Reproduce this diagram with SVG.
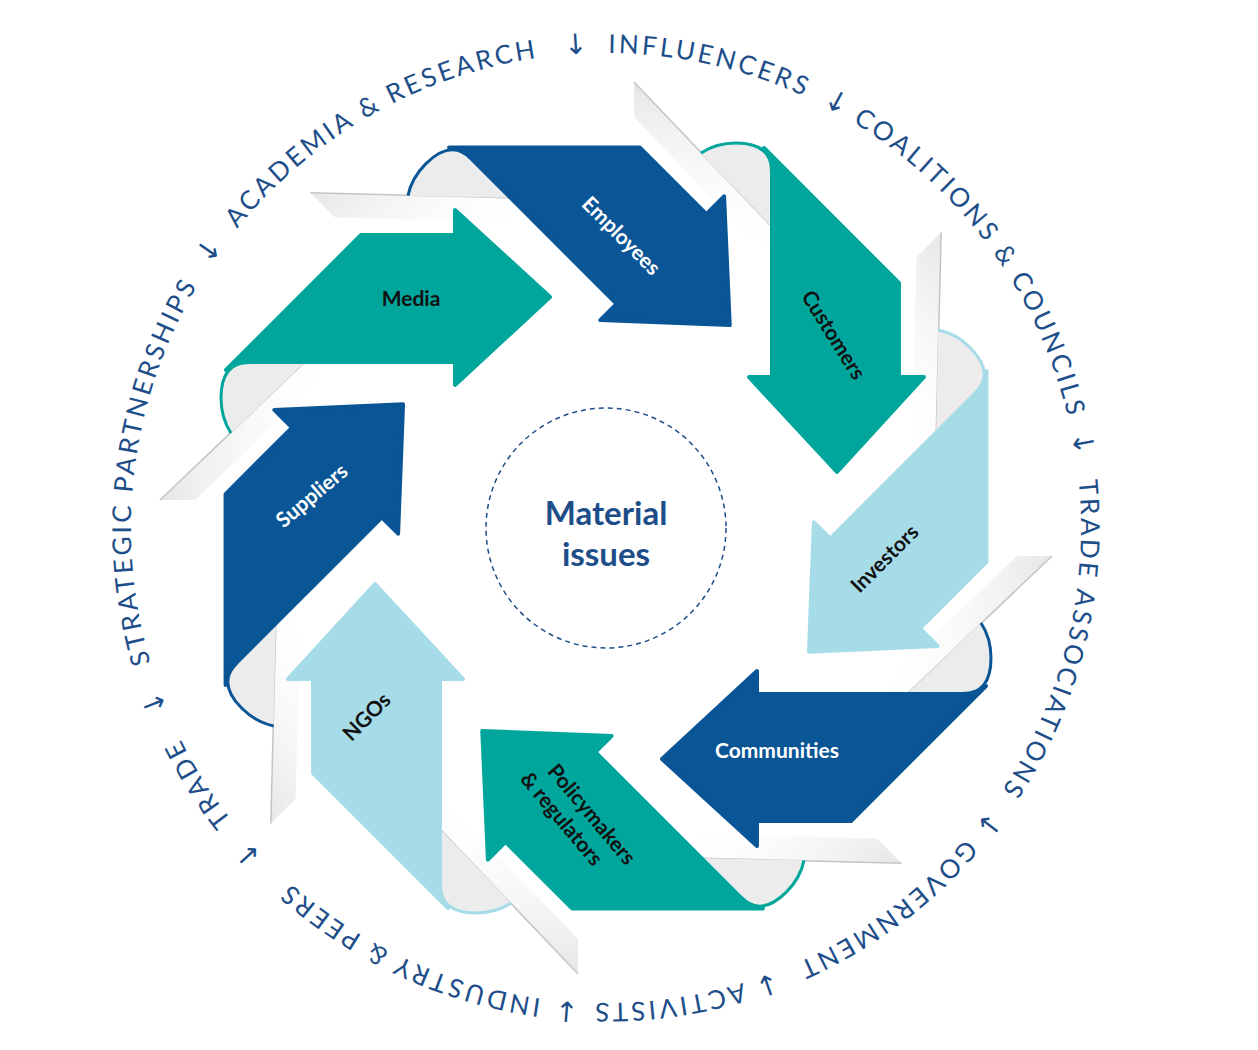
<svg xmlns="http://www.w3.org/2000/svg" xmlns:xlink="http://www.w3.org/1999/xlink" width="1258" height="1050" viewBox="0 0 1258 1050">
<style>
.ring{font-family:Lato,"Liberation Sans",sans-serif;font-size:26px;letter-spacing:3px;fill:#1d4e89}
.arr{font-family:"DejaVu Sans",sans-serif;font-size:28px;fill:#1d4e89}
.lbl{font-family:Lato,"Liberation Sans",sans-serif;font-size:21px;font-weight:bold;text-anchor:middle;dominant-baseline:middle}
.w{fill:#ffffff}.k{fill:#111111}
.crease{stroke:#c4c4c4;stroke-width:1.5}
</style>
<defs>
<path id="ringPath" d="M 606 53 A 475 475 0 1 1 605.9 53"/>
<linearGradient id="shade" x1="0" y1="0" x2="1" y2="0">
<stop offset="0" stop-color="#e6e6e6"/><stop offset="1" stop-color="#ffffff" stop-opacity="0"/>
</linearGradient>
<path id="back" d="M 305 362 L 250 362 C 228 362 221 378 221 398 C 221 412 225 424 231 433 Z"/>
<path id="rim" d="M 250 362 C 228 362 221 378 221 398 C 221 412 225 424 231 433"/>
<polygon id="band" points="305,362 340,362 195,500 160,500"/>
<line id="crease" x1="305" y1="362" x2="160" y2="500"/>
<path id="body" d="M 361 235 L 455 235 L 455 210 L 550 297 L 455 385 L 455 362 L 250 362 C 238 362 231 365 226 370 Z"/>
</defs>
<rect width="1258" height="1050" fill="#ffffff"/>

<g id="ring">
<text class="ring"><textPath href="#ringPath" startOffset="66.1%" text-anchor="middle">TRADE</textPath></text>
<text class="arr"><textPath href="#ringPath" startOffset="69.1%" text-anchor="middle">↓</textPath></text>
<text class="ring"><textPath href="#ringPath" startOffset="77%" text-anchor="middle">STRATEGIC PARTNERSHIPS</textPath></text>
<text class="arr"><textPath href="#ringPath" startOffset="84.7%" text-anchor="middle">↓</textPath></text>
<text class="ring"><textPath href="#ringPath" startOffset="91.8%" text-anchor="middle">ACADEMIA &amp; RESEARCH</textPath></text>
<text class="arr"><textPath href="#ringPath" startOffset="99%" text-anchor="middle">↓</textPath></text>
<text class="ring"><textPath href="#ringPath" startOffset="3.5%" text-anchor="middle">INFLUENCERS</textPath></text>
<text class="arr"><textPath href="#ringPath" startOffset="7.9%" text-anchor="middle">↓</textPath></text>
<text class="ring"><textPath href="#ringPath" startOffset="15%" text-anchor="middle">COALITIONS &amp; COUNCILS</textPath></text>
<text class="arr"><textPath href="#ringPath" startOffset="22.2%" text-anchor="middle">↓</textPath></text>
<text class="ring"><textPath href="#ringPath" startOffset="28.9%" text-anchor="middle">TRADE ASSOCIATIONS</textPath></text>
<text class="arr"><textPath href="#ringPath" startOffset="35.5%" text-anchor="middle">↓</textPath></text>
<text class="ring"><textPath href="#ringPath" startOffset="39.9%" text-anchor="middle">GOVERNMENT</textPath></text>
<text class="arr"><textPath href="#ringPath" startOffset="44.6%" text-anchor="middle">↓</textPath></text>
<text class="ring"><textPath href="#ringPath" startOffset="47.9%" text-anchor="middle">ACTIVISTS</textPath></text>
<text class="arr"><textPath href="#ringPath" startOffset="51.3%" text-anchor="middle">↓</textPath></text>
<text class="ring"><textPath href="#ringPath" startOffset="56.9%" text-anchor="middle">INDUSTRY &amp; PEERS</textPath></text>
<text class="arr"><textPath href="#ringPath" startOffset="63.2%" text-anchor="middle">↓</textPath></text>
</g>

<g id="connectors">
<g transform="rotate(0 606 528)"><use href="#band" fill="url(#shade)"/><use href="#crease" class="crease"/></g>
<g transform="rotate(45 606 528)"><use href="#band" fill="url(#shade)"/><use href="#crease" class="crease"/></g>
<g transform="rotate(90 606 528)"><use href="#band" fill="url(#shade)"/><use href="#crease" class="crease"/></g>
<g transform="rotate(135 606 528)"><use href="#band" fill="url(#shade)"/><use href="#crease" class="crease"/></g>
<g transform="rotate(180 606 528)"><use href="#band" fill="url(#shade)"/><use href="#crease" class="crease"/></g>
<g transform="rotate(225 606 528)"><use href="#band" fill="url(#shade)"/><use href="#crease" class="crease"/></g>
<g transform="rotate(270 606 528)"><use href="#band" fill="url(#shade)"/><use href="#crease" class="crease"/></g>
<g transform="rotate(315 606 528)"><use href="#band" fill="url(#shade)"/><use href="#crease" class="crease"/></g>
</g>

<g id="media">
<g transform="rotate(0 606 528)" fill="#00a69c" stroke="#00a69c"><use href="#back" fill="#ececec" stroke="none"/><use href="#rim" fill="none" stroke-width="3"/><use href="#body" stroke-width="4" stroke-linejoin="round"/></g>
<text class="lbl k" x="411" y="301">Media</text>
</g>
<g id="employees">
<g transform="rotate(45 606 528)" fill="#0a5596" stroke="#0a5596"><use href="#back" fill="#ececec" stroke="none"/><use href="#rim" fill="none" stroke-width="3"/><use href="#body" stroke-width="4" stroke-linejoin="round"/></g>
<text class="lbl w" transform="translate(620 237) rotate(45)">Employees</text>
</g>
<g id="customers">
<g transform="rotate(90 606 528)" fill="#00a69c" stroke="#00a69c"><use href="#back" fill="#ececec" stroke="none"/><use href="#rim" fill="none" stroke-width="3"/><use href="#body" stroke-width="4" stroke-linejoin="round"/></g>
<text class="lbl k" transform="translate(832 336) rotate(58)">Customers</text>
</g>
<g id="investors">
<g transform="rotate(135 606 528)" fill="#a6dce8" stroke="#a6dce8"><use href="#back" fill="#ececec" stroke="none"/><use href="#rim" fill="none" stroke-width="3"/><use href="#body" stroke-width="4" stroke-linejoin="round"/></g>
<text class="lbl k" transform="translate(886 560) rotate(-45)">Investors</text>
</g>
<g id="communities">
<g transform="rotate(180 606 528)" fill="#0a5596" stroke="#0a5596"><use href="#back" fill="#ececec" stroke="none"/><use href="#rim" fill="none" stroke-width="3"/><use href="#body" stroke-width="4" stroke-linejoin="round"/></g>
<text class="lbl w" x="777" y="753">Communities</text>
</g>
<g id="policymakers">
<g transform="rotate(225 606 528)" fill="#00a69c" stroke="#00a69c"><use href="#back" fill="#ececec" stroke="none"/><use href="#rim" fill="none" stroke-width="3"/><use href="#body" stroke-width="4" stroke-linejoin="round"/></g>
<text class="lbl k" transform="translate(575 818) rotate(50)"><tspan x="8" y="-13">Policymakers</tspan><tspan x="-8" y="13">&amp; regulators</tspan></text>
</g>
<g id="ngos">
<g transform="rotate(270 606 528)" fill="#a6dce8" stroke="#a6dce8"><use href="#back" fill="#ececec" stroke="none"/><use href="#rim" fill="none" stroke-width="3"/><use href="#body" stroke-width="4" stroke-linejoin="round"/></g>
<text class="lbl k" transform="translate(368 718) rotate(-45)">NGOs</text>
</g>
<g id="suppliers">
<g transform="rotate(315 606 528)" fill="#0a5596" stroke="#0a5596"><use href="#back" fill="#ececec" stroke="none"/><use href="#rim" fill="none" stroke-width="3"/><use href="#body" stroke-width="4" stroke-linejoin="round"/></g>
<text class="lbl w" transform="translate(313 497) rotate(-40)">Suppliers</text>
</g>

<g id="center">
<circle cx="606" cy="528" r="120" fill="none" stroke="#1d4e89" stroke-width="1.5" stroke-dasharray="5 4"/>
<text x="606" y="525" text-anchor="middle" font-family="Lato,'Liberation Sans',sans-serif" font-weight="bold" font-size="33" fill="#1d4e89">Material</text>
<text x="606" y="566" text-anchor="middle" font-family="Lato,'Liberation Sans',sans-serif" font-weight="bold" font-size="33" fill="#1d4e89">issues</text>
</g>
</svg>
